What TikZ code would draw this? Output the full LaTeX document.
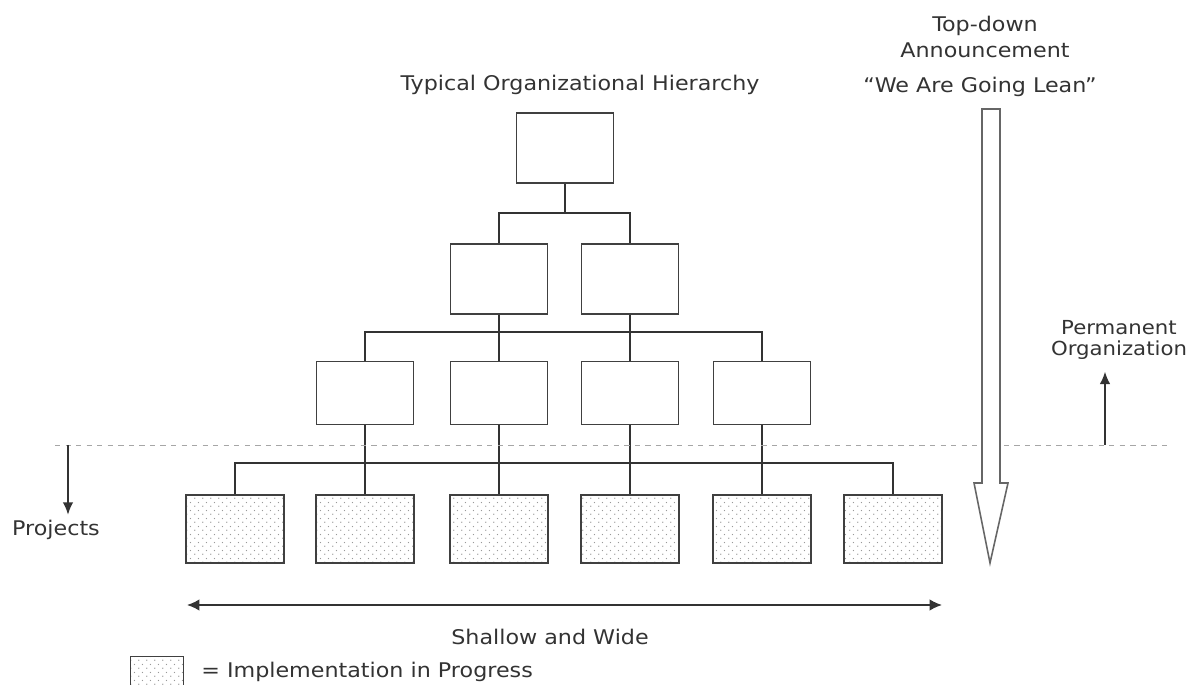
\documentclass[tikz,border=0pt]{standalone}
\usepackage{fontspec}
\setmainfont[FakeStretch=1.1]{DejaVu Sans}
\usetikzlibrary{arrows.meta,positioning,patterns}
\pgfdeclarepatternformonly{sparsedots}{\pgfpointorigin}{\pgfqpoint{4.6pt}{4.6pt}}{\pgfqpoint{4.6pt}{4.6pt}}%
{\pgfpathcircle{\pgfqpoint{1.15pt}{1.15pt}}{0.45pt}\pgfpathcircle{\pgfqpoint{3.45pt}{3.45pt}}{0.45pt}\pgfusepath{fill}}

\begin{document}
\begin{tikzpicture}[x=0.02cm,y=-0.02cm,font=\fontsize{11.5}{13}\selectfont,
  unit/.style={draw=black!75,line width=0.9pt,fill=white,minimum width=1.94cm,minimum height=1.4cm,inner sep=0pt},
  proj/.style={unit,fill=none,pattern=sparsedots,pattern color=black!40,minimum width=1.96cm,minimum height=1.36cm},
  link/.style={draw=black!80,line width=0.6pt},
  lbl/.style={text=black!80,align=center,inner sep=1pt}]
\useasboundingbox (0,0) rectangle (1188,685);

\node[unit] (top) at (565,148) {};
\node[unit] (l2a) at (499,279) {};
\node[unit] (l2b) at (630,279) {};
\node[unit,minimum height=1.26cm] (l3a) at (365,393) {};
\node[unit,minimum height=1.26cm] (l3b) at (499,393) {};
\node[unit,minimum height=1.26cm] (l3c) at (630,393) {};
\node[unit,minimum height=1.26cm] (l3d) at (762,393) {};
\foreach \n/\x in {1/235,2/365,3/499,4/630,5/762,6/893}
  \node[proj] (p\n) at (\x,529) {};

\coordinate (bus1) at (0,213);
\coordinate (bus2) at (0,332);
\coordinate (bus3) at (0,463);
\draw[link] (top) -- (top |- bus1);
\draw[link] (l2a) |- (top |- bus1) -| (l2b);
\draw[link] (l3a) |- (l2a |- bus2) -| (l3d);
\draw[link] (l2a) -- (l3b);
\draw[link] (l2b) -- (l3c);
\draw[link] (p1) |- (l3a |- bus3) -| (p6);
\draw[link] (l3a) -- (p2);
\draw[link] (l3b) -- (p3);
\draw[link] (l3c) -- (p4);
\draw[link] (l3d) -- (p5);

\draw[black!35,dashed,line width=0.5pt] (55,445) -- (1170,445);

\node[lbl] (title) at (580,85) {Typical Organizational Hierarchy};
\node[lbl,font=\fontsize{11.5}{15}\selectfont] (topdown) at (985,37) {Top-down\\Announcement};
\node[lbl] (going) at (980,87) {``We Are Going Lean''};
\draw[black!60,line width=0.9pt,fill=white] (982,109) -- (1000,109) -- (1000,483) -- (1008,483)
  -- (990,563) -- (974,483) -- (982,483) -- cycle;

\node[lbl,font=\fontsize{11}{11.5}\selectfont] (perm) at (1119,340) {Permanent\\Organization};
\coordinate (pm) at (1105,445);
\draw[link,line width=0.8pt,-{Latex[length=7pt,width=6pt]}] (pm) -- ([yshift=-6pt]pm |- perm.south);

\node[lbl] (projects) at (56,530) {Projects};
\coordinate (pj) at (68,445);
\draw[link,line width=0.8pt,-{Latex[length=7pt,width=6pt]}] (pj) -- ([yshift=2pt]pj |- projects.north);

\coordinate (wl) at (187,605);
\coordinate (wr) at (942,605);
\draw[link,line width=0.9pt,{Latex[length=7pt,width=6.5pt]}-{Latex[length=7pt,width=6.5pt]}] (wl) -- (wr);
\node[lbl] (shallow) at (550,637) {Shallow and Wide};

\node[proj,minimum width=1.06cm,minimum height=0.62cm] (key) at (157,672) {};
\node[lbl,right=0.3cm of key] (keytext) {= Implementation in Progress};
\end{tikzpicture}
\end{document}
